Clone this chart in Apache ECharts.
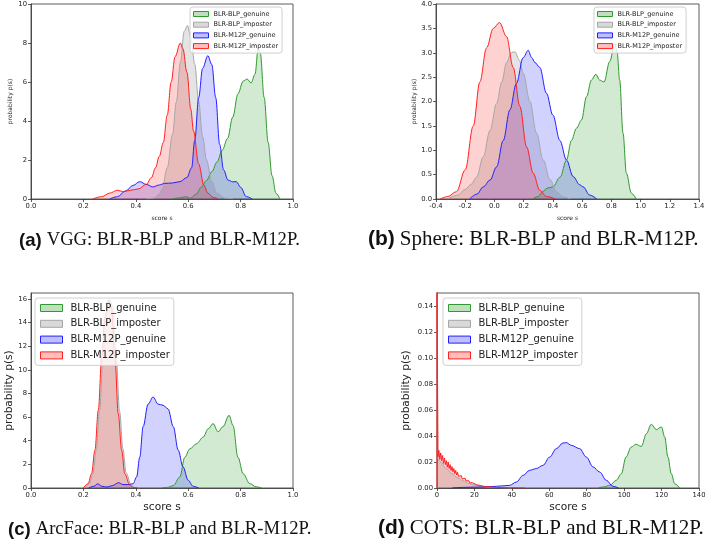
<!DOCTYPE html>
<html>
<head>
<meta charset="utf-8">
<title>score distributions</title>
<script src="https://cdn.jsdelivr.net/npm/echarts@6/dist/echarts.min.js"></script>
<style>
	html, body { margin: 0; padding: 0; background: #fff; }
	#main { width: 709px; height: 548px; }
</style>
</head>
<body>
<div id="main"></div>
<script>
const seriesNames = ['BLR-BLP_genuine', 'BLR-BLP_imposter', 'BLR-M12P_genuine', 'BLR-M12P_imposter'];

// (a) VGG, [score, density]
const vggBlpGenuine = [[0.54,0],[0.57,0.06],[0.59,0.12],[0.61,0.04],[0.63,0.25],[0.65,0.6],[0.67,0.95],[0.69,1.4],[0.71,1.9],[0.73,2.5],[0.75,3.1],[0.77,4.2],[0.79,5.4],[0.81,6.05],[0.825,6.15],[0.84,5.95],[0.855,6.4],[0.867,7.7],[0.875,7.5],[0.89,5.2],[0.905,2.9],[0.92,1.2],[0.935,0.3],[0.95,0]];
const vggBlpImposter = [[0.44,0],[0.47,0.05],[0.49,0.25],[0.50,0.5],[0.52,1.6],[0.54,3.3],[0.555,5.0],[0.57,7.0],[0.585,8.6],[0.597,8.9],[0.61,8.3],[0.625,6.9],[0.64,5.0],[0.655,3.2],[0.67,2.0],[0.69,0.9],[0.71,0.3],[0.74,0.05],[0.77,0]];
const vggM12pGenuine = [[0.30,0],[0.33,0.12],[0.36,0.4],[0.39,0.7],[0.415,0.89],[0.44,0.75],[0.465,0.62],[0.49,0.72],[0.51,0.8],[0.54,0.82],[0.568,0.89],[0.595,1.1],[0.613,1.6],[0.625,3.0],[0.64,5.2],[0.655,6.7],[0.675,7.35],[0.69,6.9],[0.705,5.2],[0.72,2.8],[0.735,1.5],[0.752,0.97],[0.77,0.88],[0.784,0.89],[0.80,0.6],[0.822,0.12],[0.845,0]];
const vggM12pImposter = [[0.235,0],[0.27,0.12],[0.30,0.3],[0.33,0.45],[0.35,0.38],[0.38,0.45],[0.41,0.52],[0.44,0.75],[0.46,1.1],[0.475,1.6],[0.49,2.2],[0.505,2.9],[0.52,4.3],[0.535,6.0],[0.55,7.3],[0.57,8.0],[0.58,7.7],[0.595,6.5],[0.61,4.6],[0.62,3.5],[0.64,1.8],[0.66,0.7],[0.675,0.3],[0.695,0.08],[0.715,0]];

// (b) Sphere
const sphBlpGenuine = [[0.26,0],[0.30,0.05],[0.33,0.15],[0.36,0.22],[0.40,0.25],[0.45,0.45],[0.493,0.8],[0.527,1.2],[0.561,1.45],[0.596,1.62],[0.63,2.1],[0.664,2.44],[0.694,2.56],[0.72,2.44],[0.75,2.4],[0.789,2.82],[0.823,3.19],[0.84,3.0],[0.857,2.44],[0.88,1.35],[0.903,0.53],[0.937,0.12],[0.97,0]];
const sphBlpImposter = [[-0.32,0],[-0.25,0.08],[-0.2,0.2],[-0.16,0.3],[-0.122,0.45],[-0.076,0.87],[-0.031,1.4],[0.015,1.96],[0.05,2.4],[0.083,2.8],[0.115,3.0],[0.14,3.02],[0.17,2.85],[0.197,2.58],[0.243,2.0],[0.288,1.35],[0.334,0.8],[0.38,0.4],[0.425,0.15],[0.47,0.04],[0.52,0]];
const sphM12pGenuine = [[-0.17,0],[-0.12,0.1],[-0.076,0.25],[-0.03,0.39],[0.015,0.66],[0.06,1.2],[0.106,1.83],[0.15,2.37],[0.197,2.9],[0.231,3.05],[0.255,2.9],[0.277,2.8],[0.31,2.7],[0.356,2.17],[0.40,1.72],[0.448,1.2],[0.493,0.8],[0.539,0.46],[0.584,0.29],[0.607,0.25],[0.652,0.08],[0.70,0]];
const sphM12pImposter = [[-0.37,0],[-0.32,0.05],[-0.26,0.15],[-0.2,0.6],[-0.145,1.5],[-0.1,2.4],[-0.054,3.1],[-0.008,3.5],[0.035,3.62],[0.083,3.33],[0.128,2.7],[0.174,1.9],[0.22,1.07],[0.265,0.53],[0.31,0.18],[0.356,0.05],[0.42,0]];

// (c) ArcFace
const arcBlpGenuine = [[0.5,0],[0.52,0.05],[0.543,0.2],[0.568,0.93],[0.587,2.6],[0.606,3.3],[0.632,3.75],[0.657,4.3],[0.676,5.0],[0.695,5.45],[0.714,4.75],[0.733,5.2],[0.756,6.15],[0.771,5.3],[0.79,2.6],[0.81,1.2],[0.835,0.37],[0.86,0.1],[0.88,0]];
const arcBlpImposter = [[0.205,0],[0.223,0.35],[0.236,1.2],[0.249,3.2],[0.262,6.6],[0.275,11.0],[0.287,14.6],[0.30,16.0],[0.312,15.4],[0.325,11.3],[0.338,6.5],[0.351,3.3],[0.363,1.3],[0.382,0.25],[0.395,0.05],[0.415,0]];
const arcM12pGenuine = [[0.22,0],[0.24,0.15],[0.255,0.35],[0.27,0.15],[0.29,0.08],[0.31,0.2],[0.335,0.45],[0.35,0.3],[0.37,0.28],[0.39,0.37],[0.403,0.93],[0.415,2.6],[0.428,5.2],[0.447,7.1],[0.466,7.7],[0.485,7.1],[0.504,7.0],[0.523,6.7],[0.543,5.2],[0.562,3.2],[0.58,1.8],[0.6,0.65],[0.619,0.14],[0.64,0]];
const arcM12pImposter = [[0.2,0],[0.218,0.37],[0.231,1.2],[0.244,3.2],[0.257,6.6],[0.27,11.1],[0.282,14.5],[0.295,15.9],[0.307,15.3],[0.32,11.1],[0.333,6.3],[0.346,3.2],[0.358,1.2],[0.377,0.23],[0.39,0.05],[0.41,0]];

// (d) COTS
const cotsBlpGenuine = [[86,0],[89,0.0008],[92.3,0.002],[95.8,0.0059],[98.5,0.011],[101,0.0238],[103.8,0.0315],[106.2,0.0336],[109.2,0.032],[111.9,0.0418],[114.5,0.049],[117.2,0.0449],[119.9,0.047],[121.7,0.0392],[123.4,0.0238],[125.2,0.011],[127,0.0033],[129.7,0]];
const cotsBlpImposter = [[0,0],[0,0.16],[0.5,0.022],[2,0.02],[5,0.015],[8,0.011],[11,0.008],[14,0.0055],[17,0.0035],[20,0.0022],[24,0.0012],[30,0.0004],[40,0]];
const cotsM12pGenuine = [[8,0],[15,0.0005],[25,0.0008],[31.7,0.0013],[38.8,0.002],[42.4,0.0046],[46,0.0097],[49.5,0.0136],[53,0.0149],[56.6,0.0174],[60.2,0.0238],[63.8,0.0303],[67.3,0.0346],[69.1,0.0349],[71.8,0.0328],[76.2,0.0303],[79.8,0.0238],[83.4,0.0162],[86.9,0.0123],[90.5,0.0059],[94,0.0013],[97,0]];
const cotsM12pImposter = [[0,0],[0,0.16],[0.5,0.024],[1,0.029],[1.5,0.022],[2,0.027],[2.5,0.021],[3,0.025],[3.5,0.019],[4,0.023],[4.5,0.018],[5,0.021],[5.5,0.016],[6,0.02],[6.5,0.015],[7,0.018],[7.5,0.0135],[8,0.0165],[8.5,0.0125],[9,0.015],[9.5,0.011],[10,0.0135],[10.5,0.01],[11,0.012],[11.5,0.009],[12,0.0105],[12.5,0.008],[13,0.0095],[13.5,0.007],[14,0.0085],[14.5,0.006],[15,0.0075],[15.5,0.0055],[16,0.0065],[16.5,0.0048],[17,0.0056],[17.5,0.004],[18,0.0048],[18.5,0.0035],[19,0.004],[19.5,0.003],[20,0.0033],[21,0.0026],[22,0.0021],[24,0.0016],[26,0.0011],[28,0.0008],[32,0.0004],[40,0.0001],[47,0]];

const arcYTicks = [0, 2, 4, 6, 8, 10, 12, 14, 16];
const cotsYTicks = [0, 0.02, 0.04, 0.06, 0.08, 0.10, 0.12, 0.14];

const captionTags = ['(a)', '(b)', '(c)', '(d)'];
const captionTexts = ['VGG: BLR-BLP and BLR-M12P.', 'Sphere: BLR-BLP and BLR-M12P.', 'ArcFace: BLR-BLP and BLR-M12P.', 'COTS: BLR-BLP and BLR-M12P.'];

const lineColors = ['#2f9a2f', '#a6a6a6', '#1f1fff', '#ff2020'];
const fillColors = ['rgba(0,128,0,0.25)', 'rgba(128,128,128,0.3)', 'rgba(0,0,255,0.25)', 'rgba(255,0,0,0.25)'];
const fontSans = 'DejaVu Sans';

let panels = [
	{
		data: [vggBlpGenuine, vggBlpImposter, vggM12pGenuine, vggM12pImposter],
		grid: { left: 31, top: 4, width: 262, height: 195 },
		x: { min: 0, max: 1, interval: 0.2, digits: 1 },
		y: { min: 0, max: 10, interval: 2, digits: 0 },
		small: true, yGap: 18, xGap: 16,
		legend: { left: 190, top: 7 },
		caption: { left: 19, top: 231, size: 18.6 },
	},
	{
		data: [sphBlpGenuine, sphBlpImposter, sphM12pGenuine, sphM12pImposter],
		grid: { left: 436, top: 4, width: 263, height: 195 },
		x: { min: -0.4, max: 1.4, interval: 0.2, digits: 1 },
		y: { min: 0, max: 4, interval: 0.5, digits: 1 },
		small: true, yGap: 18.5, xGap: 16,
		legend: { left: 594, top: 7 },
		caption: { left: 368, top: 229, size: 21 },
	},
	{
		data: [arcBlpGenuine, arcBlpImposter, arcM12pGenuine, arcM12pImposter],
		grid: { left: 31, top: 293, width: 262, height: 195 },
		x: { min: 0, max: 1, interval: 0.2, digits: 1 },
		y: { min: 0, max: 16.5, ticks: arcYTicks, digits: 0 },
		small: false, yGap: 16.5, xGap: 14,
		legend: { left: 35, top: 298 },
		caption: { left: 8, top: 520, size: 18.6 },
	},
	{
		data: [cotsBlpGenuine, cotsBlpImposter, cotsM12pGenuine, cotsM12pImposter],
		grid: { left: 437, top: 293, width: 262, height: 195 },
		x: { min: 0, max: 140, interval: 20, digits: 0 },
		y: { min: 0, max: 0.15, ticks: cotsYTicks, digits: 2 },
		small: false, yGap: 25, xGap: 14,
		legend: { left: 443, top: 298 },
		caption: { left: 378, top: 518, size: 21 },
		raw: [3],
	},
];

const axisBase =(cfg, idx, digits)=> {
	return {
		gridIndex: idx,
		type: 'value',
		min: cfg.min,
		max: cfg.max,
		interval: cfg.interval,
		splitLine: { show: false },
		axisLine: { show: true, onZero: false, lineStyle: { color: '#333', width: 0.8 } },
		axisTick: { show: true, length: 3, lineStyle: { color: '#333', width: 0.8 }, customValues: cfg.ticks },
		axisLabel: {
			fontFamily: fontSans,
			fontSize: 6.8,
			color: '#222',
			margin: 4,
			customValues: cfg.ticks,
			formatter: (v)=> Number(v).toFixed(digits),
		},
	};
};

let grids = [], xAxes = [], yAxes = [], legends = [], titles = [], series = [];
panels.forEach((p, i)=> {
	grids.push(Object.assign({ show: true, borderColor: '#333', borderWidth: 0.8, backgroundColor: 'transparent' }, p.grid));

	let nameSize = p.small ? 6 : 10.6;
	let xa = axisBase(p.x, i, p.x.digits);
	xa.name = 'score s';
	xa.nameLocation = 'middle';
	xa.nameGap = p.xGap;
	xa.nameTextStyle = { fontFamily: fontSans, fontSize: nameSize, color: '#222' };
	xAxes.push(xa);

	let ya = axisBase(p.y, i, p.y.digits);
	ya.name = 'probability p(s)';
	ya.nameLocation = 'middle';
	ya.nameRotate = 90;
	ya.nameGap = p.yGap;
	ya.nameTextStyle = { fontFamily: fontSans, fontSize: nameSize, color: '#222' };
	yAxes.push(ya);

	legends.push({
		left: p.legend.left,
		top: p.legend.top,
		orient: 'vertical',
		icon: 'rect',
		itemWidth: p.small ? 15 : 22,
		itemHeight: p.small ? 5 : 7,
		itemGap: p.small ? 2.7 : 3.8,
		padding: p.small ? [3, 4, 3, 3] : [4, 4, 4, 5],
		backgroundColor: 'rgba(255,255,255,0.8)',
		borderColor: '#d0d0d0',
		borderWidth: 1,
		borderRadius: 3,
		selectedMode: false,
		textStyle: {
			fontFamily: fontSans,
			fontSize: p.small ? 6.5 : 10,
			lineHeight: p.small ? 8 : 12,
			color: '#222',
			padding: p.small ? 0 : [0, 0, 0, 3],
		},
		data: seriesNames.map((n, k)=> ({
			name: n,
			itemStyle: { color: fillColors[k], borderColor: lineColors[k], borderWidth: 1 },
		})),
	});

	let cs = p.caption.size;
	titles.push({
		text: '{b|' + captionTags[i] + '} {t|' + captionTexts[i] + '}',
		left: p.caption.left,
		top: p.caption.top,
		padding: 0,
		textStyle: {
			fontWeight: 'normal',
			rich: {
				b: { fontFamily: 'Liberation Sans', fontWeight: 'bold', fontSize: cs, color: '#111' },
				t: { fontFamily: 'Liberation Serif', fontWeight: 'normal', fontSize: cs, color: '#111' },
			},
		},
	});

	p.data.forEach((d, k)=> {
		let raw = p.raw && p.raw.indexOf(k) >= 0;
		series.push({
			name: seriesNames[k],
			type: 'line',
			xAxisIndex: i,
			yAxisIndex: i,
			data: d,
			showSymbol: false,
			smooth: raw ? false : 0.35,
			smoothMonotone: 'x',
			clip: true,
			lineStyle: { color: lineColors[k], width: 1 },
			itemStyle: { color: lineColors[k] },
			areaStyle: { color: fillColors[k] },
			emphasis: { disabled: true },
		});
	});
});

let chart = echarts.init(document.getElementById('main'), null, { renderer: 'canvas' });
chart.setOption({
	animation: false,
	backgroundColor: '#fff',
	title: titles,
	grid: grids,
	xAxis: xAxes,
	yAxis: yAxes,
	legend: legends,
	series: series,
});
</script>
</body>
</html>
